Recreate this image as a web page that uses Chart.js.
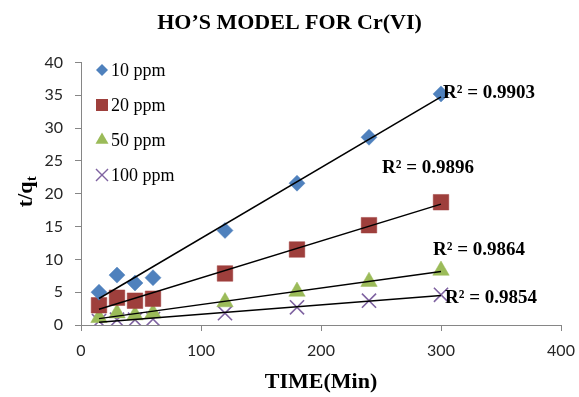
<!DOCTYPE html>
<html><head><meta charset="utf-8">
<script src="https://cdn.jsdelivr.net/npm/chart.js@4/dist/chart.umd.min.js"></script>
<style>html,body{margin:0;padding:0;background:#fff}#wrap{width:579px;height:397px;position:relative}</style>
</head><body><div id="wrap"><canvas id="c"></canvas></div>
<script>
// ---- data ----
const times = [15, 30, 45, 60, 120, 180, 240, 300];
const seriesNames = ['10 ppm', '20 ppm', '50 ppm', '100 ppm'];
const ppm10 = [5.0, 7.6, 6.4, 7.2, 14.4, 21.6, 28.6, 35.2];
const ppm20 = [3.0, 4.15, 3.7, 4.0, 7.85, 11.5, 15.2, 18.7];
const ppm50 = [1.1, 1.8, 1.5, 1.8, 3.5, 5.1, 6.6, 8.3];
const ppm100 = [0.6, 0.8, 0.8, 0.9, 1.8, 2.7, 3.7, 4.6];
const r2Labels = ['R² = 0.9903', 'R² = 0.9896', 'R² = 0.9864', 'R² = 0.9854'];
const xTickValues = [0, 100, 200, 300, 400];
const yTickValues = [0, 5, 10, 15, 20, 25, 30, 35, 40];
const chartTitle = 'HO’S MODEL FOR Cr(VI)';
const xTitle = 'TIME(Min)';

// ---- styles ----
const seriesValues = [ppm10, ppm20, ppm50, ppm100];
const styles = [
  {color: '#4F81BD', shape: 'rectRot', r: 8, lr: 6},
  {color: '#9E3F3C', shape: 'rect', r: 11, lr: 8.5},
  {color: '#9BBB59', shape: 'triangle', r: 9.5, lr: 7.5},
  {color: '#7F63A1', shape: 'crossRot', r: 10, lr: 8.5}
];
const r2Anchors = [[301.7, 35.3], [250.8, 23.9], [293.3, 11.4], [303.3, 4.1]];
const serif = "'Liberation Serif', 'Times New Roman', serif";
const sans = "Lato, 'Liberation Sans', sans-serif";
const axisGray = '#868686';

function fit(xs, ys) {
  const n = xs.length;
  const mx = xs.reduce((a, b) => a + b, 0) / n;
  const my = ys.reduce((a, b) => a + b, 0) / n;
  let sxy = 0, sxx = 0;
  for (let i = 0; i < n; i++) { sxy += (xs[i] - mx) * (ys[i] - my); sxx += (xs[i] - mx) ** 2; }
  const b = sxy / sxx;
  return {a: my - b * mx, b};
}

const datasets = [];
seriesValues.forEach((vals, i) => {
  const st = styles[i];
  datasets.push({
    type: 'scatter', label: seriesNames[i], order: 1,
    data: times.map((t, k) => ({x: t, y: vals[k]})),
    pointStyle: st.shape, pointRadius: st.r, pointHoverRadius: st.r,
    backgroundColor: st.color, borderColor: st.color,
    borderWidth: st.shape === 'crossRot' ? 1.6 : 0.5, showLine: false
  });
});
seriesValues.forEach((vals, i) => {
  const f = fit(times, vals);
  const x0 = times[0], x1 = times[times.length - 1];
  datasets.push({
    type: 'line', label: 'trend ' + seriesNames[i], order: 0,
    data: [{x: x0, y: f.a + f.b * x0}, {x: x1, y: f.a + f.b * x1}],
    borderColor: '#000', borderWidth: 1.5, pointRadius: 0, fill: false
  });
});

function drawMarker(ctx, shape, x, y, r, color) {
  ctx.save();
  ctx.fillStyle = color; ctx.strokeStyle = color;
  ctx.beginPath();
  if (shape === 'rectRot') {
    ctx.moveTo(x, y - r); ctx.lineTo(x + r, y); ctx.lineTo(x, y + r); ctx.lineTo(x - r, y); ctx.closePath(); ctx.fill();
  } else if (shape === 'rect') {
    const s = r * Math.SQRT1_2; ctx.rect(x - s, y - s, 2 * s, 2 * s); ctx.fill();
  } else if (shape === 'triangle') {
    ctx.moveTo(x, y - r); ctx.lineTo(x + r * Math.sin(Math.PI / 3), y + r / 2); ctx.lineTo(x - r * Math.sin(Math.PI / 3), y + r / 2); ctx.closePath(); ctx.fill();
  } else {
    const d = r * Math.SQRT1_2; ctx.lineWidth = 1.4;
    ctx.moveTo(x - d, y - d); ctx.lineTo(x + d, y + d); ctx.moveTo(x + d, y - d); ctx.lineTo(x - d, y + d); ctx.stroke();
  }
  ctx.restore();
}

const extras = {
  id: 'extras',
  afterDraw(chart) {
    const ctx = chart.ctx;
    const xs = chart.scales.x, ys = chart.scales.y;
    // y axis title with subscript
    ctx.save();
    ctx.translate(26, 192);
    ctx.rotate(-Math.PI / 2);
    ctx.fillStyle = '#000';
    ctx.textBaseline = 'alphabetic';
    const mainF = 'bold 22px ' + serif, subF = 'bold 14px ' + serif;
    ctx.font = mainF; const w1 = ctx.measureText('t/q').width;
    ctx.font = subF; const w2 = ctx.measureText('t').width;
    const start = -(w1 + w2) / 2;
    ctx.font = mainF; ctx.textAlign = 'left'; ctx.fillText('t/q', start, 6);
    ctx.font = subF; ctx.fillText('t', start + w1 + 0.5, 10);
    ctx.restore();
    // R² labels
    ctx.save();
    ctx.font = 'bold 19px ' + serif; ctx.fillStyle = '#000';
    ctx.textAlign = 'left'; ctx.textBaseline = 'middle';
    r2Labels.forEach((t, i) => {
      ctx.fillText(t, xs.getPixelForValue(r2Anchors[i][0]), ys.getPixelForValue(r2Anchors[i][1]));
    });
    ctx.restore();
    // legend
    ctx.save();
    ctx.font = '18px ' + serif; ctx.fillStyle = '#000';
    ctx.textAlign = 'left'; ctx.textBaseline = 'middle';
    seriesNames.forEach((n, i) => {
      const y = 70 + i * 35;
      drawMarker(ctx, styles[i].shape, 102, y, styles[i].lr, styles[i].color);
      ctx.fillStyle = '#000';
      ctx.fillText(n, 111, y + 1);
    });
    ctx.restore();
  }
};

new Chart(document.getElementById('c'), {
  data: {datasets},
  options: {
    responsive: true, maintainAspectRatio: false, animation: false,
    layout: {padding: 0},
    plugins: {
      legend: {display: false}, tooltip: {enabled: false},
      title: {display: true, text: chartTitle, color: '#000',
        font: {family: serif, size: 22, weight: 'bold'}, padding: {top: 10, bottom: 26}}
    },
    scales: {
      x: {
        type: 'linear', min: 0, max: 400,
        afterBuildTicks: s => { s.ticks = xTickValues.map(v => ({value: v})); },
        afterFit: s => { s.height = 72; s.paddingRight = 18; s.paddingLeft = 0; },
        ticks: {color: '#262626', font: {family: sans, size: 16}, padding: 10, maxRotation: 0},
        grid: {drawOnChartArea: false, drawTicks: true, tickLength: 6, color: axisGray},
        border: {color: axisGray, width: 1},
        title: {display: true, text: xTitle, color: '#000', font: {family: serif, size: 22, weight: 'bold'}, padding: {top: 0, bottom: 1}}
      },
      y: {
        type: 'linear', min: 0, max: 40,
        afterBuildTicks: s => { s.ticks = yTickValues.map(v => ({value: v})); },
        afterFit: s => { s.width = 81; },
        ticks: {color: '#262626', font: {family: sans, size: 16}, padding: 12},
        grid: {drawOnChartArea: false, drawTicks: true, tickLength: 6, color: axisGray},
        border: {color: axisGray, width: 1}
      }
    }
  },
  plugins: [extras]
});
</script>
</body></html>
